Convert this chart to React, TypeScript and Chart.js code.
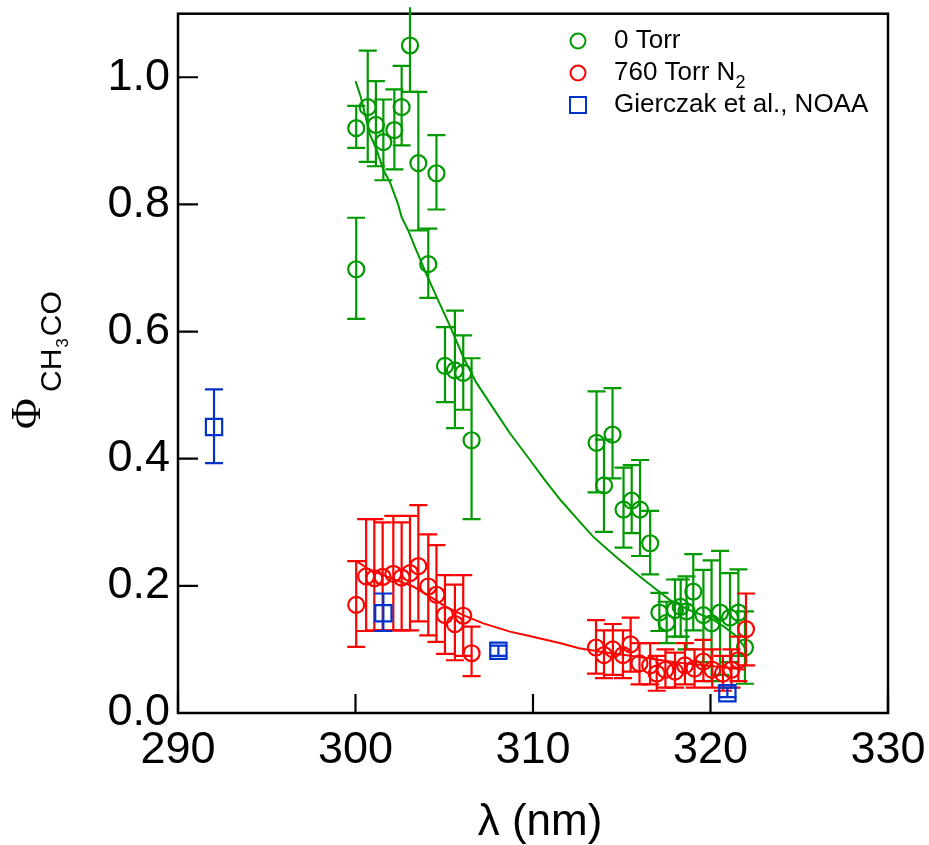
import React, { useEffect, useRef } from 'react';
import { Chart, registerables } from 'chart.js';

Chart.register(...registerables);

const FONT = '"Liberation Sans", Arial, Helvetica, sans-serif';
const SERIF = '"Liberation Serif", "Times New Roman", serif';
const GREEN = '#009900';
const RED = '#ff0000';
const BLUE = '#0033cc';

const xTicks = [290, 300, 310, 320, 330];
const yTicks = [0, 0.2, 0.4, 0.6, 0.8, 1.0];

const legendLabels = ['0 Torr', '760 Torr N', 'Gierczak et al., NOAA'];

// 0 Torr
const torr0Lambda = [300.04, 300.69, 301.15, 301.57, 302.19, 302.6, 303.07, 303.54, 304.56, 300.04, 304.1, 305.04, 305.6, 306.07, 306.54,
  313.58, 314.0, 314.48, 315.1, 315.56, 316.03, 316.6, 317.12, 317.53, 318.0, 318.32, 318.65, 319.03, 319.6, 320.06, 320.54, 321.1, 321.57, 321.94];
const torr0Phi = [0.92, 0.953, 0.925, 0.898, 0.917, 0.953, 1.05, 0.865, 0.849, 0.698, 0.706, 0.546, 0.539, 0.535, 0.429,
  0.425, 0.358, 0.438, 0.32, 0.334, 0.32, 0.267, 0.158, 0.142, 0.162, 0.167, 0.16, 0.191, 0.154, 0.141, 0.158, 0.15, 0.158, 0.103];
const torr0Lo = [0.889, 0.867, 0.86, 0.838, 0.855, 0.893, 0.977, 0.759, 0.792, 0.62, 0.653, 0.489, 0.448, 0.477, 0.305,
  0.347, 0.285, 0.369, 0.26, 0.283, 0.247, 0.218, 0.129, 0.11, 0.12, 0.12, 0.1, 0.13, 0.08, 0.05, 0.06, 0.08, 0.09, 0.046];
const torr0Hi = [0.955, 1.042, 0.994, 0.965, 0.981, 1.018, 1.11, 0.977, 0.909, 0.779, 0.762, 0.607, 0.633, 0.594, 0.558,
  0.506, 0.43, 0.511, 0.386, 0.39, 0.398, 0.318, 0.189, 0.175, 0.21, 0.21, 0.215, 0.25, 0.225, 0.24, 0.255, 0.22, 0.226, 0.16];

// 760 Torr N2
const torr760Lambda = [300.04, 300.6, 301.06, 301.53, 302.13, 302.6, 303.07, 303.54, 304.1, 304.56, 305.04, 305.6, 306.07, 306.54,
  313.55, 314.0, 314.5, 315.07, 315.5, 316.0, 316.6, 316.97, 317.46, 318.0, 318.56, 319.1, 319.6, 320.1, 320.7, 321.18, 321.57, 322.0];
const torr760Phi = [0.17, 0.215, 0.212, 0.214, 0.219, 0.213, 0.22, 0.231, 0.199, 0.186, 0.154, 0.14, 0.153, 0.094,
  0.103, 0.091, 0.1, 0.091, 0.108, 0.078, 0.075, 0.062, 0.068, 0.065, 0.075, 0.07, 0.081, 0.068, 0.062, 0.068, 0.083, 0.132];
const torr760Lo = [0.104, 0.129, 0.13, 0.13, 0.13, 0.13, 0.13, 0.144, 0.122, 0.112, 0.093, 0.083, 0.09, 0.058,
  0.062, 0.055, 0.06, 0.055, 0.065, 0.045, 0.045, 0.035, 0.04, 0.04, 0.045, 0.04, 0.05, 0.04, 0.035, 0.04, 0.05, 0.075];
const torr760Hi = [0.239, 0.305, 0.305, 0.3, 0.31, 0.3, 0.31, 0.327, 0.281, 0.264, 0.217, 0.202, 0.217, 0.136,
  0.146, 0.13, 0.14, 0.13, 0.15, 0.11, 0.11, 0.09, 0.1, 0.095, 0.11, 0.1, 0.115, 0.1, 0.09, 0.1, 0.12, 0.188];

// Gierczak et al., NOAA
const noaaLambda = [292.03, 301.57, 308.05, 320.95];
const noaaPhi = [0.45, 0.157, 0.098, 0.031];
const noaaLo = [0.393, 0.129, 0.09, 0.025];
const noaaHi = [0.509, 0.188, 0.106, 0.04];

// fitted curves
const fit0Lambda = [300.0, 300.3, 300.8, 301.2, 301.57, 301.94, 302.4, 302.6, 302.97, 303.35, 304.0, 304.56, 305.3, 306.07, 306.8, 307.58,
  308.7, 309.83, 310.7, 311.55, 312.5, 313.4, 314.7, 316.0, 317.0, 317.7, 318.8, 320.0, 320.8, 321.5, 322.0];
const fit0Phi = [0.994, 0.969, 0.911, 0.885, 0.854, 0.835, 0.8, 0.78, 0.759, 0.733, 0.69, 0.655, 0.61, 0.56, 0.52, 0.487,
  0.44, 0.398, 0.365, 0.335, 0.305, 0.277, 0.245, 0.215, 0.193, 0.178, 0.162, 0.149, 0.135, 0.12, 0.1];
const fit760Lambda = [300.1, 300.8, 302.3, 303.25, 304.2, 305.1, 306.07, 307.2, 308.7, 309.8, 311.5, 312.6, 313.9, 316.0, 318.0, 320.0, 322.0];
const fit760Phi = [0.238, 0.225, 0.209, 0.199, 0.183, 0.167, 0.154, 0.141, 0.128, 0.121, 0.11, 0.102, 0.096, 0.088, 0.08, 0.074, 0.068];

const pts = (xs: number[], ys: number[]) => xs.map((x, i) => ({ x, y: ys[i] }));

const errorBarPlugin = {
  id: 'errorBars',
  beforeDatasetDraw(chart: any, args: any) {
    const ds = chart.data.datasets[args.index];
    if (!ds.errLo) return;
    const xs = chart.scales.x;
    const ys = chart.scales.y;
    const ctx = chart.ctx;
    ctx.save();
    ctx.strokeStyle = ds.borderColor;
    ctx.lineWidth = 2.2;
    const cap = 9;
    ds.data.forEach((p: any, i: number) => {
      const px = xs.getPixelForValue(p.x);
      const lo = ys.getPixelForValue(ds.errLo[i]);
      const hi = ys.getPixelForValue(ds.errHi[i]);
      ctx.beginPath();
      ctx.moveTo(px, lo);
      ctx.lineTo(px, hi);
      ctx.moveTo(px - cap, lo);
      ctx.lineTo(px + cap, lo);
      if (ds.errHi[i] <= ys.max) {
        ctx.moveTo(px - cap, hi);
        ctx.lineTo(px + cap, hi);
      }
      ctx.stroke();
    });
    ctx.restore();
  },
};

const framePlugin = {
  id: 'frame',
  beforeDatasetsDraw(chart: any) {
    const { ctx, chartArea: a } = chart;
    const xs = chart.scales.x;
    const ys = chart.scales.y;
    ctx.save();
    ctx.strokeStyle = '#000';
    ctx.lineWidth = 2.5;
    ctx.strokeRect(a.left, a.top, a.right - a.left, a.bottom - a.top);
    ctx.lineWidth = 2.2;
    ctx.beginPath();
    xTicks.forEach((v) => {
      const px = xs.getPixelForValue(v);
      ctx.moveTo(px, a.bottom);
      ctx.lineTo(px, a.bottom - 19);
    });
    yTicks.forEach((v) => {
      const py = ys.getPixelForValue(v);
      ctx.moveTo(a.left, py);
      ctx.lineTo(a.left + 20, py);
    });
    ctx.stroke();
    ctx.restore();
  },
  afterDraw(chart: any) {
    const ctx = chart.ctx;
    ctx.save();
    ctx.fillStyle = '#000';
    // x title
    ctx.font = `44px ${FONT}`;
    ctx.textAlign = 'center';
    ctx.textBaseline = 'alphabetic';
    ctx.fillText('λ (nm)', 540, 835);
    // y title
    ctx.save();
    ctx.translate(40, 429);
    ctx.rotate(-Math.PI / 2);
    ctx.textAlign = 'left';
    ctx.font = `42px ${SERIF}`;
    ctx.fillText('Φ', 0, 0);
    ctx.font = `30px ${FONT}`;
    ctx.fillText('CH', 37, 21);
    const wCH = ctx.measureText('CH').width;
    ctx.font = `17px ${FONT}`;
    ctx.fillText('3', 37 + wCH + 1, 28);
    const w3 = ctx.measureText('3').width;
    ctx.font = `30px ${FONT}`;
    ctx.fillText('CO', 37 + wCH + w3 + 3, 21);
    ctx.restore();
    // legend
    const colors = [GREEN, RED, BLUE];
    const rows = [41, 73, 105];
    ctx.font = `26px ${FONT}`;
    ctx.textAlign = 'left';
    ctx.textBaseline = 'middle';
    rows.forEach((y, i) => {
      ctx.strokeStyle = colors[i];
      ctx.lineWidth = 2;
      ctx.beginPath();
      if (i < 2) {
        ctx.arc(578, y, 7.5, 0, Math.PI * 2);
      } else {
        ctx.rect(570, y - 8, 16, 16);
      }
      ctx.stroke();
      ctx.fillStyle = '#000';
      ctx.fillText(legendLabels[i], 614, y);
      if (i === 1) {
        const w = ctx.measureText(legendLabels[i]).width;
        ctx.font = `18px ${FONT}`;
        ctx.fillText('2', 614 + w, y + 10);
        ctx.font = `26px ${FONT}`;
      }
    });
    ctx.restore();
  },
};

const zeroPad = (s: any) => {
  s.paddingTop = 0;
  s.paddingBottom = 0;
  s.paddingLeft = 0;
  s.paddingRight = 0;
};

export default function App() {
  const ref = useRef<HTMLCanvasElement | null>(null);
  useEffect(() => {
    if (!ref.current) return;
    const chart = new Chart(ref.current, {
      type: 'scatter',
      data: {
        datasets: [
          {
            label: 'Gierczak et al., NOAA',
            data: pts(noaaLambda, noaaPhi),
            errLo: noaaLo,
            errHi: noaaHi,
            borderColor: BLUE,
            backgroundColor: 'rgba(0,0,0,0)',
            pointStyle: 'rect',
            pointRadius: 11.5,
            pointBorderWidth: 2.2,
            order: 0,
          } as any,
          {
            label: 'fit760',
            data: pts(fit760Lambda, fit760Phi),
            showLine: true,
            borderColor: RED,
            borderWidth: 2,
            pointRadius: 0,
            order: 1,
          } as any,
          {
            label: '760 Torr N2',
            data: pts(torr760Lambda, torr760Phi),
            errLo: torr760Lo,
            errHi: torr760Hi,
            borderColor: RED,
            backgroundColor: 'rgba(0,0,0,0)',
            pointStyle: 'circle',
            pointRadius: 8,
            pointBorderWidth: 2.2,
            order: 2,
          } as any,
          {
            label: 'fit0',
            data: pts(fit0Lambda, fit0Phi),
            showLine: true,
            borderColor: GREEN,
            borderWidth: 2,
            pointRadius: 0,
            order: 3,
          } as any,
          {
            label: '0 Torr',
            data: pts(torr0Lambda, torr0Phi),
            errLo: torr0Lo,
            errHi: torr0Hi,
            borderColor: GREEN,
            backgroundColor: 'rgba(0,0,0,0)',
            pointStyle: 'circle',
            pointRadius: 8,
            pointBorderWidth: 2.2,
            order: 4,
          } as any,
        ],
      },
      options: {
        animation: false,
        responsive: false,
        devicePixelRatio: 1,
        layout: { padding: { top: 12, right: 41, left: 0, bottom: 0 } },
        plugins: { legend: { display: false }, tooltip: { enabled: false } },
        scales: {
          x: {
            type: 'linear',
            min: 290,
            max: 330,
            grid: { display: false, drawTicks: false },
            border: { display: false },
            afterBuildTicks: (s: any) => { s.ticks = xTicks.map((v) => ({ value: v })); },
            afterFit: (s: any) => { s.height = 132; zeroPad(s); },
            ticks: {
              color: '#000',
              font: { family: FONT, size: 45 },
              padding: 11,
              maxRotation: 0,
              callback: (v: any) => String(v),
            },
          },
          y: {
            type: 'linear',
            min: 0,
            max: 1.1,
            grid: { display: false, drawTicks: false },
            border: { display: false },
            afterBuildTicks: (s: any) => { s.ticks = yTicks.map((v) => ({ value: v })); },
            afterFit: (s: any) => { s.width = 178; zeroPad(s); },
            ticks: {
              color: '#000',
              font: { family: FONT, size: 45 },
              padding: 8,
              callback: (v: any) => Number(v).toFixed(1),
            },
          },
        },
      } as any,
      plugins: [errorBarPlugin, framePlugin],
    });
    return () => chart.destroy();
  }, []);
  return (
    <div style={{ position: 'absolute', left: 0, top: 0, width: 929, height: 845, background: '#fff' }}>
      <canvas ref={ref} width={929} height={845} style={{ display: 'block' }} />
    </div>
  );
}
